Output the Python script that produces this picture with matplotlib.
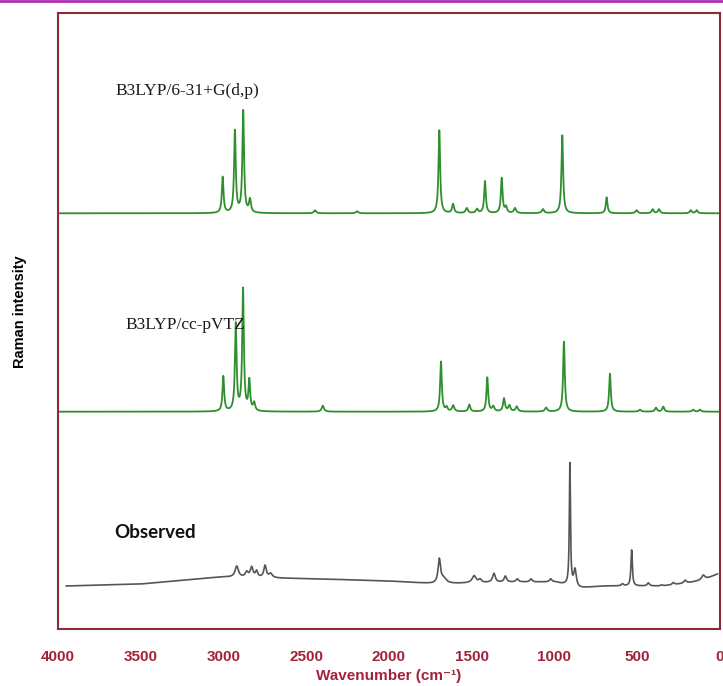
import numpy as np
import matplotlib.pyplot as plt
from matplotlib.lines import Line2D

# ---- peak lists: (wavenumber, height, half-width) ----
# heights are in pixel-ish intensity units above each trace's baseline
calc1_pos = [3005, 2931, 2881, 2840, 2447, 2193, 1696, 1613, 1530, 1468, 1420, 1319,
             1293, 1239, 1070, 953, 685, 504, 407, 369, 177, 141]
calc1_hgt = [36, 82, 102, 13, 3, 2, 83, 9, 5, 4, 32, 35,
             6, 5, 4, 78, 16, 3, 4, 4, 3, 3]
calc1_wid = [6, 6, 6, 7, 8, 8, 6, 7, 8, 8, 6, 6,
             7, 8, 8, 6, 6, 8, 7, 7, 7, 7]

calc2_pos = [3001, 2926, 2882, 2844, 2815, 2400, 1686, 1652, 1612, 1515, 1406, 1370,
             1305, 1273, 1228, 1051, 943, 665, 484, 387, 343, 162, 121]
calc2_hgt = [35, 87, 122, 30, 8, 6, 50, 4, 6, 7, 34, 5,
             13, 6, 5, 4, 70, 38, 2, 4, 5, 2, 2]
calc2_wid = [6, 6, 6, 6, 7, 8, 6, 7, 8, 7, 6, 8,
             7, 8, 8, 8, 6, 6, 8, 7, 7, 7, 7]

obs_pos = [2920, 2860, 2830, 2800, 2749, 2715, 1696, 1670, 1486, 1450, 1366, 1297, 1225,
           1142, 1023, 907, 876, 589, 534, 433, 352, 282, 211, 101]
obs_hgt = [11, 5, 10, 6, 12, 4, 24, 5, 7, 3, 9, 6, 3,
           3, 3, 122, 17, 2, 36, 3, 1, 2, 3, 5]
obs_wid = [12, 10, 10, 8, 9, 12, 9, 20, 14, 10, 10, 9, 9,
           8, 8, 4, 9, 8, 5, 8, 8, 8, 9, 12]

# observed baseline anchors (wavenumber, level)
obs_base_x = [3950, 3500, 3100, 3000, 2700, 2400, 2000, 1800, 1700, 1500, 1200,
              1000, 850, 700, 500, 350, 200, 100, 15]
obs_base_y = [43, 45, 51, 52, 51, 50, 48, 46, 45, 46, 47,
              47, 41, 43, 43, 43, 46, 49, 55]

calc1_offset = 415.7
calc2_offset = 217.3

xticks = [4000, 3500, 3000, 2500, 2000, 1500, 1000, 500, 0]

wn = np.linspace(3999, 2, 8000)
wn_obs = np.linspace(3950, 15, 8000)


def spectrum(x, pos, hgt, wid):
    y = np.zeros_like(x)
    for p, h, w in zip(pos, hgt, wid):
        y += h * w**2 / ((x - p)**2 + w**2)
    return y


top = calc1_offset + spectrum(wn, calc1_pos, calc1_hgt, calc1_wid)
mid = calc2_offset + spectrum(wn, calc2_pos, calc2_hgt, calc2_wid)
base = np.interp(wn_obs, obs_base_x[::-1], obs_base_y[::-1])
obs = base + spectrum(wn_obs, obs_pos, obs_hgt, obs_wid)

fig = plt.figure(figsize=(7.23, 6.86), dpi=100)
ax = fig.add_axes([58 / 723, 1 - 629 / 686, 662 / 723, 616.5 / 686])

green = '#2f8f2f'
ax.plot(wn, top, color=green, lw=1.3)
ax.plot(wn, mid, color=green, lw=1.3)
ax.plot(wn_obs, obs, color='#555555', lw=1.2)

ax.set_xlim(4000, 0)
ax.set_ylim(0, 616.5)
ax.set_yticks([])
ax.set_xticks(xticks)
ax.set_xticklabels([str(t) for t in xticks])

maroon = '#a3223a'
for s in ax.spines.values():
    s.set_color('#8c2a36')
    s.set_linewidth(1.5)
ax.tick_params(axis='x', length=0, pad=15, labelsize=11, labelcolor=maroon)
for lbl in ax.get_xticklabels():
    lbl.set_fontweight('bold')
    lbl.set_fontfamily('Liberation Sans')

fig.text(389 / 723, 1 - 676 / 686, 'Wavenumber (cm\u207b\u00b9)', ha='center',
         va='center', fontsize=11, fontweight='bold', color=maroon,
         family=['Liberation Sans', 'DejaVu Sans'])
fig.text(20 / 723, 1 - 312 / 686, 'Raman intensity', rotation=90, ha='center',
         va='center', fontsize=10.5, fontweight='bold', family='Liberation Sans')

# series labels
fig.text(115 / 723, 1 - 91 / 686, 'B3LYP/6-31+G(d,p)', ha='left', va='center',
         fontsize=12.5, family='Liberation Serif', color='#1a1a1a')
fig.text(125 / 723, 1 - 325 / 686, 'B3LYP/cc-pVTZ', ha='left', va='center',
         fontsize=12.5, family='Liberation Serif', color='#1a1a1a')
fig.text(114 / 723, 1 - 533 / 686, 'Observed', ha='left', va='center',
         fontsize=13.5, fontweight='bold', family='Lato', color='#111111')

# magenta strip along the top edge of the original image
fig.add_artist(Line2D([0, 1], [0.999, 0.999], transform=fig.transFigure,
                      color='#b02cb0', lw=2))

fig.savefig('out.png', dpi=100)
